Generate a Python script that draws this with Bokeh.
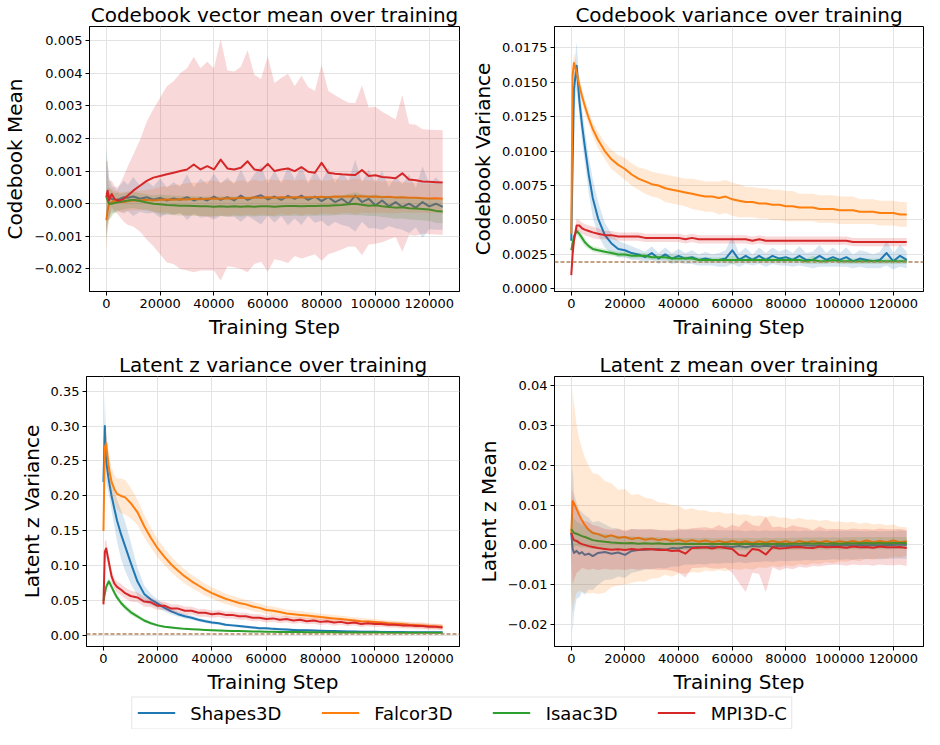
import numpy as np
from bokeh.plotting import figure
from bokeh.layouts import column, row
from bokeh.models import (Range1d, FixedTicker, CustomJSTickFormatter, BasicTickFormatter,
                          Span, Legend, LegendItem)
from bokeh.embed import file_html
from bokeh.resources import INLINE

# ---------------- data ----------------
NAMES = ["Shapes3D", "Falcor3D", "Isaac3D", "MPI3D-C"]

STEPS = [0, 500, 1000, 2000, 3000, 4000, 5000, 6500,
         8000, 10000, 12500, 15000, 17500, 20000, 22500, 25000,
         27500, 30000, 32500, 35000, 37500, 40000, 42500, 45000,
         47500, 50000, 52500, 55000, 57500, 60000, 62500, 65000,
         67500, 70000, 72500, 75000, 77500, 80000, 82500, 85000,
         87500, 90000, 92500, 95000, 97500, 100000, 102500, 105000,
         107500, 110000, 112500, 115000, 117500, 120000, 122500, 125000]

X_TICKS = [0, 20000, 40000, 60000, 80000, 100000, 120000]

# --- Codebook vector mean ---
CBM_SHP = [0.00030, 0.00035, 0.00020, 0.00015, 0.00010, 0.00012, 0.00015, 0.00020,
           0.00018, 0.00022, 0.00015, 0.00020, 0.00012, 0.00018, 0.00010, 0.00016,
           0.00012, 0.00020, 0.00010, 0.00017, 0.00010, 0.00022, 0.00012, 0.00020,
           0.00010, 0.00025, 0.00012, 0.00020, 0.00026, 0.00013, 0.00022, 0.00012,
           0.00024, 0.00015, 0.00025, 0.00012, 0.00022, 0.00008, 0.00020, 0.00005,
           0.00015, 0.00000, 0.00025, 0.00005, 0.00015, -0.00005, 0.00010, -0.00008,
           0.00005, -0.00010, 0.00000, -0.00012, 0.00005, -0.00008, 0.00000, -0.00010]
CBM_SHP_SD = [0.0014, 0.0009, 0.0006, 0.0004, 0.0004, 0.0003, 0.0004, 0.0005,
              0.0004, 0.0006, 0.0004, 0.0005, 0.0004, 0.0006, 0.0004, 0.0005,
              0.0004, 0.0007, 0.0004, 0.0006, 0.0005, 0.0007, 0.0005, 0.0006,
              0.0005, 0.0008, 0.0005, 0.0007, 0.0009, 0.0005, 0.0008, 0.0005,
              0.0009, 0.0006, 0.0009, 0.0005, 0.0008, 0.0006, 0.0009, 0.0006,
              0.0008, 0.0007, 0.0011, 0.0006, 0.0009, 0.0007, 0.0009, 0.0006,
              0.0008, 0.0007, 0.0009, 0.0006, 0.0011, 0.0007, 0.0008, 0.0007]
CBM_FAL = [-0.00050, -0.00020, 0.00000, 0.00005, 0.00010, 0.00008, 0.00005, 0.00005,
           0.00008, 0.00010, 0.00010, 0.00012, 0.00010, 0.00012, 0.00013, 0.00012,
           0.00014, 0.00013, 0.00015, 0.00014, 0.00015, 0.00016, 0.00015, 0.00017,
           0.00016, 0.00018, 0.00017, 0.00019, 0.00018, 0.00020, 0.00018, 0.00020,
           0.00019, 0.00020, 0.00019, 0.00020, 0.00020, 0.00021, 0.00020, 0.00022,
           0.00021, 0.00023, 0.00022, 0.00023, 0.00021, 0.00022, 0.00020, 0.00021,
           0.00019, 0.00020, 0.00018, 0.00018, 0.00017, 0.00016, 0.00017, 0.00015]
CBM_FAL_SD = [0.0009, 0.0007, 0.0005, 0.0004, 0.0003, 0.0003, 0.0003, 0.0003,
              0.0003, 0.0003, 0.0003, 0.0003, 0.00035, 0.0004, 0.0004, 0.00045,
              0.00045, 0.0005, 0.0005, 0.0005, 0.00055, 0.00055, 0.0005, 0.00055,
              0.0005, 0.00055, 0.0005, 0.00055, 0.0005, 0.00055, 0.00055, 0.0005,
              0.00055, 0.0005, 0.00055, 0.0005, 0.00055, 0.0005, 0.0005, 0.00055,
              0.0005, 0.0005, 0.00055, 0.0005, 0.0005, 0.0005, 0.00048, 0.0005,
              0.00048, 0.00047, 0.00046, 0.00046, 0.00045, 0.00045, 0.00044, 0.00045]
CBM_ISA = [0.00020, 0.00010, 0.00000, 0.00000, 0.00002, 0.00004, 0.00005, 0.00008,
           0.00010, 0.00012, 0.00008, 0.00004, 0.00000, -0.00002, -0.00004, -0.00005,
           -0.00006, -0.00006, -0.00007, -0.00008, -0.00008, -0.00009, -0.00008, -0.00009,
           -0.00008, -0.00009, -0.00008, -0.00009, -0.00008, -0.00008, -0.00009, -0.00008,
           -0.00007, -0.00007, -0.00008, -0.00007, -0.00007, -0.00006, -0.00006, -0.00005,
           -0.00004, -0.00002, 0.00000, -0.00003, -0.00006, -0.00005, -0.00008, -0.00010,
           -0.00012, -0.00011, -0.00014, -0.00015, -0.00016, -0.00018, -0.00022, -0.00024]
CBM_ISA_SD = [0.0013, 0.0008, 0.0005, 0.0004, 0.0003, 0.0003, 0.00025, 0.00025,
              0.00025, 0.00025, 0.00025, 0.00025, 0.00025, 0.0003, 0.0003, 0.0003,
              0.0003, 0.0003, 0.0003, 0.0003, 0.0003, 0.0003, 0.0003, 0.0003,
              0.0003, 0.0003, 0.0003, 0.0003, 0.0003, 0.0003, 0.0003, 0.0003,
              0.0003, 0.0003, 0.0003, 0.0003, 0.0003, 0.0003, 0.0003, 0.0003,
              0.0003, 0.00032, 0.00035, 0.00032, 0.00032, 0.00033, 0.00033, 0.00033,
              0.00034, 0.00034, 0.00034, 0.00035, 0.00035, 0.00035, 0.00036, 0.00036]
CBM_MPI = [0.00020, 0.00040, 0.00010, 0.00030, 0.00015, 0.00010, 0.00010, 0.00015,
           0.00025, 0.00040, 0.00055, 0.00070, 0.00080, 0.00085, 0.00090, 0.00095,
           0.00100, 0.00105, 0.00120, 0.00105, 0.00115, 0.00105, 0.00135, 0.00108,
           0.00105, 0.00110, 0.00130, 0.00105, 0.00102, 0.00122, 0.00100, 0.00105,
           0.00108, 0.00100, 0.00112, 0.00098, 0.00095, 0.00125, 0.00095, 0.00092,
           0.00090, 0.00089, 0.00088, 0.00103, 0.00085, 0.00087, 0.00082, 0.00080,
           0.00078, 0.00093, 0.00074, 0.00072, 0.00068, 0.00067, 0.00066, 0.00065]
CBM_MPI_SD = [0.0011, 0.0009, 0.0006, 0.0004, 0.0004, 0.0004, 0.0005, 0.0007,
              0.0009, 0.0011, 0.0014, 0.0018, 0.0021, 0.0024, 0.0027, 0.0028,
              0.0030, 0.0031, 0.0033, 0.0031, 0.0032, 0.0031, 0.0037, 0.0030,
              0.0030, 0.0031, 0.0034, 0.0029, 0.0028, 0.0033, 0.0027, 0.0028,
              0.0029, 0.0026, 0.0028, 0.0026, 0.0025, 0.0030, 0.0025, 0.0024,
              0.0023, 0.0022, 0.0022, 0.0026, 0.0021, 0.0021, 0.0020, 0.0019,
              0.0018, 0.0024, 0.0017, 0.0017, 0.0016, 0.0016, 0.0016, 0.0016]
CBM_Y_TICKS = [-0.002, -0.001, 0.0, 0.001, 0.002, 0.003, 0.004, 0.005]

# --- Codebook variance ---
CBV_SHP = [0.0035, 0.0090, 0.0145, 0.0162, 0.0137, 0.0119, 0.0104, 0.0083,
           0.0066, 0.0051, 0.0039, 0.0033, 0.0029, 0.0028, 0.0026, 0.0025,
           0.0023, 0.0026, 0.0022, 0.0025, 0.0022, 0.0024, 0.0022, 0.0023,
           0.0021, 0.0022, 0.0021, 0.0021, 0.0022, 0.0028, 0.0021, 0.0024,
           0.0021, 0.0024, 0.0021, 0.0024, 0.0022, 0.0023, 0.0021, 0.0024,
           0.0021, 0.0021, 0.0024, 0.0021, 0.0023, 0.0021, 0.0023, 0.0020,
           0.0022, 0.0021, 0.0020, 0.0021, 0.0026, 0.0020, 0.0024, 0.0021]
CBV_SHP_SD = [0.0008, 0.0015, 0.0015, 0.0017, 0.0012, 0.0012, 0.0012, 0.0013,
              0.0014, 0.0012, 0.0009, 0.0007, 0.0006, 0.0005, 0.0005, 0.0004,
              0.0004, 0.0005, 0.0004, 0.0005, 0.0004, 0.0005, 0.0004, 0.0005,
              0.0004, 0.0005, 0.0004, 0.0005, 0.0006, 0.0010, 0.0005, 0.0006,
              0.0004, 0.0006, 0.0005, 0.0006, 0.0005, 0.0006, 0.0005, 0.0007,
              0.0005, 0.0006, 0.0008, 0.0005, 0.0007, 0.0005, 0.0007, 0.0005,
              0.0006, 0.0006, 0.0005, 0.0006, 0.0009, 0.0006, 0.0008, 0.0006]
CBV_FAL = [0.0040, 0.0155, 0.0164, 0.0157, 0.0148, 0.0140, 0.0133, 0.0124,
           0.0116, 0.0108, 0.0100, 0.0094, 0.0090, 0.0087, 0.0083, 0.0080,
           0.0078, 0.0076, 0.0075, 0.0073, 0.0072, 0.0071, 0.0070, 0.0069,
           0.0068, 0.0067, 0.0067, 0.0066, 0.0067, 0.0065, 0.0064, 0.0063,
           0.0063, 0.0062, 0.0062, 0.0061, 0.0061, 0.0060, 0.0060, 0.0059,
           0.0059, 0.0059, 0.0058, 0.0058, 0.0058, 0.0057, 0.0057, 0.0057,
           0.0056, 0.0056, 0.0056, 0.0055, 0.0055, 0.0055, 0.0054, 0.0054]
CBV_FAL_SD = [0.0003, 0.0006, 0.0007, 0.0005, 0.0005, 0.0005, 0.0005, 0.0005,
              0.0005, 0.0006, 0.0006, 0.0007, 0.0007, 0.0008, 0.0008, 0.0008,
              0.0009, 0.0009, 0.0009, 0.0010, 0.0010, 0.0010, 0.0010, 0.0011,
              0.0011, 0.0011, 0.0011, 0.0012, 0.0012, 0.0012, 0.0012, 0.0011,
              0.0011, 0.0011, 0.0011, 0.0011, 0.0011, 0.0011, 0.0011, 0.0010,
              0.0010, 0.0010, 0.0010, 0.0010, 0.0010, 0.0010, 0.0010, 0.0010,
              0.0009, 0.0009, 0.0009, 0.0009, 0.0009, 0.0009, 0.0009, 0.0009]
CBV_ISA = [0.0028, 0.0033, 0.0038, 0.0042, 0.0040, 0.0037, 0.0034, 0.0031,
           0.0029, 0.0028, 0.0027, 0.0026, 0.0025, 0.0025, 0.0024, 0.0024,
           0.0024, 0.0023, 0.0023, 0.0023, 0.0022, 0.0022, 0.0022, 0.0022,
           0.0021, 0.0021, 0.0021, 0.0021, 0.0021, 0.0021, 0.0021, 0.0021,
           0.0021, 0.0021, 0.0021, 0.0021, 0.0021, 0.0021, 0.0021, 0.0021,
           0.0020, 0.0021, 0.0020, 0.0020, 0.0021, 0.0020, 0.0020, 0.0020,
           0.0020, 0.0020, 0.0020, 0.0020, 0.0020, 0.0020, 0.0020, 0.0020]
CBV_ISA_SD = [0.0003, 0.0003, 0.0003, 0.0003, 0.0003, 0.0003, 0.0003, 0.0002,
              0.0002, 0.0002, 0.0002, 0.0002, 0.0002, 0.0002, 0.0002, 0.0002,
              0.0002, 0.0002, 0.0002, 0.0002, 0.0003, 0.0002, 0.0002, 0.0002,
              0.0002, 0.0002, 0.0002, 0.0002, 0.0002, 0.0003, 0.0002, 0.0002,
              0.0002, 0.0002, 0.0002, 0.0002, 0.0002, 0.0002, 0.0002, 0.0002,
              0.0002, 0.0003, 0.0002, 0.0002, 0.0002, 0.0002, 0.0002, 0.0002,
              0.0002, 0.0002, 0.0002, 0.0002, 0.0002, 0.0002, 0.0002, 0.0002]
CBV_MPI = [0.0010, 0.0025, 0.0035, 0.0046, 0.0046, 0.0044, 0.0043, 0.0042,
           0.0041, 0.0040, 0.0039, 0.0039, 0.0038, 0.0038, 0.0038, 0.0038,
           0.0037, 0.0037, 0.0037, 0.0037, 0.0037, 0.0037, 0.0036, 0.0037,
           0.0036, 0.0036, 0.0036, 0.0036, 0.0036, 0.0036, 0.0036, 0.0036,
           0.0035, 0.0036, 0.0035, 0.0035, 0.0035, 0.0035, 0.0035, 0.0035,
           0.0035, 0.0035, 0.0035, 0.0035, 0.0035, 0.0035, 0.0035, 0.0034,
           0.0034, 0.0034, 0.0034, 0.0034, 0.0034, 0.0034, 0.0034, 0.0034]
CBV_MPI_SD = [0.0003, 0.0004, 0.0004, 0.0005, 0.0004, 0.0004, 0.0004, 0.0004,
              0.0004, 0.0004, 0.0003, 0.0003, 0.0003, 0.0003, 0.0003, 0.0003,
              0.0003, 0.0003, 0.0003, 0.0003, 0.0003, 0.0003, 0.0003, 0.0003,
              0.0003, 0.0003, 0.0003, 0.0003, 0.0003, 0.0003, 0.0003, 0.0003,
              0.0003, 0.0003, 0.0003, 0.0003, 0.0003, 0.0003, 0.0003, 0.0003,
              0.0003, 0.0003, 0.0003, 0.0003, 0.0003, 0.0003, 0.0003, 0.0003,
              0.0003, 0.0003, 0.0003, 0.0003, 0.0003, 0.0003, 0.0003, 0.0003]
CBV_Y_TICKS = [0.0, 0.0025, 0.005, 0.0075, 0.01, 0.0125, 0.015, 0.0175]
CBV_REF_LEVEL = 0.00195

# --- Latent z variance ---
LZV_SHP = [0.220, 0.300, 0.250, 0.222, 0.200, 0.182, 0.165, 0.145,
           0.128, 0.105, 0.078, 0.060, 0.052, 0.046, 0.040, 0.035,
           0.031, 0.028, 0.026, 0.023, 0.021, 0.019, 0.018, 0.016,
           0.015, 0.014, 0.013, 0.012, 0.011, 0.011, 0.010, 0.0095,
           0.0090, 0.0085, 0.0080, 0.0080, 0.0075, 0.0072, 0.0070, 0.0068,
           0.0066, 0.0064, 0.0062, 0.0060, 0.0059, 0.0058, 0.0057, 0.0056,
           0.0055, 0.0054, 0.0053, 0.0052, 0.0052, 0.0051, 0.0050, 0.0050]
LZV_SHP_SD = [0.030, 0.045, 0.030, 0.020, 0.020, 0.025, 0.030, 0.035,
              0.035, 0.030, 0.020, 0.012, 0.008, 0.006, 0.005, 0.004,
              0.0035, 0.0030, 0.0030, 0.0025, 0.0025, 0.0025, 0.0020, 0.0020,
              0.0020, 0.0020, 0.0020, 0.0020, 0.0018, 0.0018, 0.0018, 0.0018,
              0.0018, 0.0017, 0.0017, 0.0017, 0.0017, 0.0016, 0.0016, 0.0016,
              0.0016, 0.0016, 0.0015, 0.0015, 0.0015, 0.0015, 0.0015, 0.0015,
              0.0015, 0.0015, 0.0015, 0.0015, 0.0015, 0.0015, 0.0015, 0.0015]
LZV_FAL = [0.150, 0.270, 0.275, 0.240, 0.220, 0.210, 0.203, 0.200,
           0.198, 0.190, 0.177, 0.157, 0.140, 0.125, 0.113, 0.102,
           0.093, 0.085, 0.078, 0.072, 0.066, 0.061, 0.057, 0.053,
           0.050, 0.047, 0.045, 0.042, 0.040, 0.037, 0.036, 0.034,
           0.032, 0.031, 0.030, 0.029, 0.028, 0.027, 0.026, 0.025,
           0.024, 0.023, 0.022, 0.021, 0.0205, 0.020, 0.019, 0.018,
           0.0175, 0.017, 0.016, 0.0155, 0.015, 0.014, 0.0135, 0.013]
LZV_FAL_SD = [0.020, 0.025, 0.020, 0.018, 0.020, 0.020, 0.022, 0.025,
              0.025, 0.022, 0.018, 0.016, 0.014, 0.013, 0.012, 0.011,
              0.0105, 0.010, 0.0095, 0.009, 0.0085, 0.008, 0.0078, 0.0075,
              0.0072, 0.007, 0.0068, 0.0066, 0.0064, 0.0062, 0.006, 0.0058,
              0.0056, 0.0055, 0.0054, 0.0053, 0.0052, 0.005, 0.0049, 0.0048,
              0.0047, 0.0046, 0.0045, 0.0044, 0.0043, 0.0042, 0.0042, 0.0041,
              0.0041, 0.004, 0.004, 0.004, 0.004, 0.004, 0.004, 0.004]
LZV_ISA = [0.050, 0.060, 0.070, 0.078, 0.070, 0.062, 0.055, 0.047,
           0.041, 0.034, 0.028, 0.022, 0.018, 0.015, 0.013, 0.012,
           0.011, 0.010, 0.0095, 0.009, 0.0085, 0.008, 0.0077, 0.0074,
           0.0071, 0.0068, 0.0066, 0.0064, 0.0062, 0.0060, 0.0058, 0.0057,
           0.0056, 0.0055, 0.0054, 0.0053, 0.0052, 0.0051, 0.0050, 0.0050,
           0.0049, 0.0049, 0.0048, 0.0048, 0.0047, 0.0047, 0.0047, 0.0046,
           0.0046, 0.0046, 0.0045, 0.0045, 0.0045, 0.0045, 0.0044, 0.0044]
LZV_ISA_SD = [0.005, 0.006, 0.006, 0.005, 0.004, 0.004, 0.004, 0.004,
              0.004, 0.004, 0.003, 0.003, 0.002, 0.002, 0.0015, 0.0015,
              0.0013, 0.0012, 0.0012, 0.0011, 0.0011, 0.0010, 0.0010, 0.0010,
              0.0010, 0.0010, 0.0010, 0.0010, 0.0010, 0.0010, 0.0010, 0.0010,
              0.0010, 0.0010, 0.0010, 0.0010, 0.0010, 0.0010, 0.0010, 0.0010,
              0.0009, 0.0009, 0.0009, 0.0009, 0.0009, 0.0009, 0.0009, 0.0009,
              0.0009, 0.0009, 0.0009, 0.0009, 0.0009, 0.0009, 0.0009, 0.0009]
LZV_MPI = [0.045, 0.120, 0.125, 0.105, 0.085, 0.075, 0.070, 0.066,
           0.061, 0.057, 0.055, 0.049, 0.048, 0.043, 0.043, 0.039,
           0.039, 0.036, 0.036, 0.033, 0.033, 0.031, 0.032, 0.030,
           0.030, 0.028, 0.028, 0.026, 0.026, 0.024, 0.025, 0.023,
           0.024, 0.022, 0.023, 0.021, 0.022, 0.020, 0.021, 0.019,
           0.020, 0.018, 0.019, 0.017, 0.018, 0.017, 0.017, 0.016,
           0.016, 0.015, 0.015, 0.014, 0.014, 0.013, 0.013, 0.012]
LZV_MPI_SD = [0.008, 0.015, 0.012, 0.010, 0.009, 0.008, 0.008, 0.008,
              0.008, 0.008, 0.007, 0.007, 0.007, 0.006, 0.006, 0.006,
              0.006, 0.006, 0.0055, 0.0055, 0.0055, 0.005, 0.005, 0.005,
              0.005, 0.005, 0.005, 0.005, 0.0048, 0.0048, 0.0047, 0.0047,
              0.0046, 0.0046, 0.0045, 0.0045, 0.0045, 0.0044, 0.0044, 0.0044,
              0.0043, 0.0043, 0.0043, 0.0042, 0.0042, 0.0042, 0.0041, 0.0041,
              0.0041, 0.004, 0.004, 0.004, 0.004, 0.004, 0.004, 0.004]
LZV_Y_TICKS = [0.0, 0.05, 0.10, 0.15, 0.20, 0.25, 0.30, 0.35]
LZV_REF_LEVEL = 0.0025

# --- Latent z mean ---
LZM_SHP = [0.0030, -0.0010, -0.0020, -0.0015, -0.0022, -0.0018, -0.0025, -0.0022,
           -0.0028, -0.0020, -0.0018, -0.0022, -0.0019, -0.0025, -0.0015, -0.0013,
           -0.0012, -0.0011, -0.0010, -0.0012, -0.0008, -0.0009, -0.0005, -0.0006,
           -0.0005, -0.0006, -0.0004, -0.0005, -0.0004, -0.0005, -0.0003, -0.0006,
           -0.0003, -0.0004, -0.0002, -0.0004, -0.0002, -0.0003, -0.0002, -0.0003,
           -0.0001, -0.0002, -0.0001, -0.0002, 0.0000, -0.0001, 0.0000, -0.0001,
           0.0000, -0.0001, 0.0000, -0.0001, 0.0000, 0.0000, 0.0001, 0.0000]
LZM_SHP_SD = [0.010, 0.021, 0.015, 0.012, 0.011, 0.010, 0.010, 0.009,
              0.0085, 0.008, 0.007, 0.0065, 0.006, 0.0058, 0.0055, 0.0053,
              0.0050, 0.0050, 0.0048, 0.0047, 0.0046, 0.0045, 0.0044, 0.0044,
              0.0043, 0.0043, 0.0042, 0.0042, 0.0041, 0.0041, 0.0040, 0.0040,
              0.0040, 0.0039, 0.0039, 0.0039, 0.0038, 0.0038, 0.0038, 0.0037,
              0.0037, 0.0037, 0.0037, 0.0036, 0.0036, 0.0036, 0.0036, 0.0036,
              0.0035, 0.0035, 0.0035, 0.0035, 0.0035, 0.0035, 0.0035, 0.0035]
LZM_FAL = [0.0030, 0.0110, 0.0105, 0.0090, 0.0075, 0.0062, 0.0050, 0.0038,
           0.0030, 0.0027, 0.0020, 0.0024, 0.0018, 0.0020, 0.0015, 0.0018,
           0.0013, 0.0016, 0.0012, 0.0015, 0.0010, 0.0013, 0.0008, 0.0012,
           0.0008, 0.0011, 0.0007, 0.0010, 0.0006, 0.0010, 0.0006, 0.0009,
           0.0005, 0.0009, 0.0006, 0.0010, 0.0006, 0.0009, 0.0005, 0.0010,
           0.0006, 0.0009, 0.0006, 0.0010, 0.0006, 0.0009, 0.0007, 0.0010,
           0.0006, 0.0011, 0.0007, 0.0010, 0.0007, 0.0011, 0.0007, 0.0009]
LZM_FAL_SD = [0.015, 0.028, 0.025, 0.021, 0.019, 0.018, 0.017, 0.016,
              0.015, 0.015, 0.014, 0.013, 0.012, 0.012, 0.011, 0.011,
              0.0105, 0.010, 0.0095, 0.009, 0.009, 0.0085, 0.008, 0.008,
              0.0078, 0.0075, 0.0074, 0.0073, 0.0072, 0.007, 0.0069, 0.0068,
              0.0067, 0.0065, 0.0064, 0.0063, 0.0062, 0.006, 0.0059, 0.0058,
              0.0057, 0.0055, 0.0054, 0.0053, 0.0052, 0.005, 0.0049, 0.0048,
              0.0047, 0.0045, 0.0044, 0.0043, 0.0042, 0.004, 0.0038, 0.0035]
LZM_ISA = [0.0040, 0.0035, 0.0030, 0.0028, 0.0025, 0.0022, 0.0020, 0.0016,
           0.0012, 0.0010, 0.0008, 0.0006, 0.0005, 0.0004, 0.0005, 0.0003,
           0.0004, 0.0003, 0.0004, 0.0002, 0.0003, 0.0003, 0.0002, 0.0003,
           0.0002, 0.0003, 0.0002, 0.0002, 0.0003, 0.0002, 0.0002, 0.0003,
           0.0002, 0.0002, 0.0003, 0.0002, 0.0003, 0.0002, 0.0003, 0.0003,
           0.0004, 0.0003, 0.0004, 0.0003, 0.0004, 0.0003, 0.0004, 0.0004,
           0.0004, 0.0005, 0.0004, 0.0005, 0.0004, 0.0005, 0.0005, 0.0005]
LZM_ISA_SD = [0.004, 0.004, 0.0035, 0.003, 0.003, 0.0028, 0.0026, 0.0024,
              0.0022, 0.002, 0.002, 0.0018, 0.0018, 0.0017, 0.0017, 0.0016,
              0.0016, 0.0016, 0.0016, 0.0015, 0.0015, 0.0015, 0.0015, 0.0015,
              0.0015, 0.0015, 0.0015, 0.0015, 0.0015, 0.0015, 0.0015, 0.0015,
              0.0015, 0.0015, 0.0015, 0.0015, 0.0015, 0.0015, 0.0015, 0.0015,
              0.0015, 0.0015, 0.0015, 0.0015, 0.0015, 0.0015, 0.0015, 0.0015,
              0.0015, 0.0015, 0.0015, 0.0015, 0.0015, 0.0015, 0.0015, 0.0015]
LZM_MPI = [0.0030, 0.0020, 0.0012, 0.0010, 0.0005, 0.0002, 0.0000, -0.0003,
           -0.0005, -0.0008, -0.0010, -0.0012, -0.0011, -0.0013, -0.0010, -0.0012,
           -0.0010, -0.0011, -0.0013, -0.0012, -0.0015, -0.0014, -0.0022, -0.0008,
           -0.0007, -0.0006, -0.0009, -0.0005, -0.0008, -0.0010, -0.0025, -0.0028,
           -0.0010, -0.0013, -0.0024, -0.0006, -0.0009, -0.0008, -0.0006, -0.0005,
           -0.0007, -0.0008, -0.0004, -0.0006, -0.0005, -0.0005, -0.0007, -0.0004,
           -0.0006, -0.0005, -0.0007, -0.0004, -0.0006, -0.0006, -0.0005, -0.0008]
LZM_MPI_SD = [0.006, 0.012, 0.010, 0.008, 0.007, 0.006, 0.006, 0.006,
              0.0055, 0.0055, 0.005, 0.005, 0.005, 0.005, 0.005, 0.005,
              0.005, 0.005, 0.005, 0.005, 0.005, 0.0055, 0.006, 0.005,
              0.005, 0.005, 0.005, 0.0055, 0.005, 0.006, 0.007, 0.009,
              0.006, 0.006, 0.0095, 0.005, 0.0055, 0.005, 0.0055, 0.005,
              0.005, 0.0045, 0.005, 0.0045, 0.0045, 0.0045, 0.0045, 0.0045,
              0.0045, 0.0045, 0.0045, 0.0045, 0.0045, 0.0045, 0.0045, 0.0045]
LZM_Y_TICKS = [-0.02, -0.01, 0.0, 0.01, 0.02, 0.03, 0.04]

# ---------------- styling ----------------
FONT = "DejaVu Sans"
COLORS = ["#1f77b4", "#ff7f0e", "#2ca02c", "#d62728"]
X_RANGE = (-6250, 131250)
X_LABEL = "Training Step"

for arr in [CBM_SHP, CBM_SHP_SD, CBM_FAL, CBM_FAL_SD, CBM_ISA, CBM_ISA_SD, CBM_MPI, CBM_MPI_SD,
            CBV_SHP, CBV_SHP_SD, CBV_FAL, CBV_FAL_SD, CBV_ISA, CBV_ISA_SD, CBV_MPI, CBV_MPI_SD,
            LZV_SHP, LZV_SHP_SD, LZV_FAL, LZV_FAL_SD, LZV_ISA, LZV_ISA_SD, LZV_MPI, LZV_MPI_SD,
            LZM_SHP, LZM_SHP_SD, LZM_FAL, LZM_FAL_SD, LZM_ISA, LZM_ISA_SD, LZM_MPI, LZM_MPI_SD]:
    assert len(arr) == len(STEPS), len(arr)


def y_formatter(decimals):
    code = ("const s = Math.abs(tick).toFixed(%d);"
            "return (tick < -1e-12 ? '\u2212' : '') + s;") % decimals
    return CustomJSTickFormatter(code=code)


def make_panel(title, ylabel, y_range, y_ticks, decimals, series, width, height,
               bl, br, bt, bb, ref_level=None):
    p = figure(width=width, height=height, output_backend="svg", toolbar_location=None,
               x_range=Range1d(*X_RANGE), y_range=Range1d(*y_range),
               min_border_left=bl, min_border_right=br, min_border_top=bt, min_border_bottom=bb,
               background_fill_color="white", border_fill_color="white")
    p.title.text = title
    p.title.text_font = FONT
    p.title.text_font_size = "20px"
    p.title.text_font_style = "normal"
    p.title.text_color = "black"
    p.title.text_line_height = 1.0
    p.title.align = "center"
    p.title.standoff = 0

    p.outline_line_color = "black"
    p.outline_line_width = 1
    p.outline_line_alpha = 1

    for ax in (p.xaxis[0], p.yaxis[0]):
        ax.major_label_text_font = FONT
        ax.major_label_text_font_size = "13px"
        ax.major_label_text_color = "black"
        ax.major_label_text_line_height = 1.0
        ax.axis_label_text_font = FONT
        ax.axis_label_text_font_size = "20px"
        ax.axis_label_text_font_style = "normal"
        ax.axis_label_text_color = "black"
        ax.axis_label_text_line_height = 1.0
        ax.major_tick_out = 4
        ax.major_tick_in = 0
        ax.minor_tick_out = 0
        ax.minor_tick_in = 0
        ax.major_tick_line_color = "black"
        ax.axis_line_color = "black"
        ax.major_label_standoff = 3
        ax.axis_label_standoff = 4

    p.xaxis.ticker = FixedTicker(ticks=X_TICKS)
    p.xaxis.formatter = BasicTickFormatter(use_scientific=False)
    p.xaxis.axis_label = X_LABEL
    p.yaxis.ticker = FixedTicker(ticks=y_ticks)
    p.yaxis.formatter = y_formatter(decimals)
    p.yaxis.axis_label = ylabel

    p.grid.grid_line_color = "#e3e3e3"
    p.grid.grid_line_width = 1

    x = np.array(STEPS, dtype=float)
    for (mean, sd), c in zip(series, COLORS):
        m = np.array(mean)
        s = np.array(sd)
        p.varea(x=x, y1=m - s, y2=m + s, fill_color=c, fill_alpha=0.18)
        p.line(x, m, line_color=c, line_width=2, line_join="round")

    if ref_level is not None:
        p.add_layout(Span(location=ref_level, dimension="width", line_color="#b3825a",
                          line_dash="4 2", line_width=1.5))
    return p


LW, RW = 464, 460
TOP_H, BOT_H, LEG_H = 345, 351, 33

p1 = make_panel("Codebook vector mean over training", "Codebook Mean",
                (-0.00269, 0.00543), CBM_Y_TICKS, 3,
                [(CBM_SHP, CBM_SHP_SD), (CBM_FAL, CBM_FAL_SD), (CBM_ISA, CBM_ISA_SD), (CBM_MPI, CBM_MPI_SD)],
                LW, TOP_H, 86, 5, 23, 54)
p2 = make_panel("Codebook variance over training", "Codebook Variance",
                (-0.00019, 0.01904), CBV_Y_TICKS, 4,
                [(CBV_SHP, CBV_SHP_SD), (CBV_FAL, CBV_FAL_SD), (CBV_ISA, CBV_ISA_SD), (CBV_MPI, CBV_MPI_SD)],
                RW, TOP_H, 90, 1, 23, 54, ref_level=CBV_REF_LEVEL)
p3 = make_panel("Latent z variance over training", "Latent z Variance",
                (-0.0152, 0.3708), LZV_Y_TICKS, 2,
                [(LZV_SHP, LZV_SHP_SD), (LZV_FAL, LZV_FAL_SD), (LZV_ISA, LZV_ISA_SD), (LZV_MPI, LZV_MPI_SD)],
                LW, BOT_H, 86, 5, 31, 50, ref_level=LZV_REF_LEVEL)
p4 = make_panel("Latent z mean over training", "Latent z Mean",
                (-0.02548, 0.04224), LZM_Y_TICKS, 2,
                [(LZM_SHP, LZM_SHP_SD), (LZM_FAL, LZM_FAL_SD), (LZM_ISA, LZM_ISA_SD), (LZM_MPI, LZM_MPI_SD)],
                RW, BOT_H, 90, 1, 31, 50)

# legend strip (the lines carry real data but lie outside this strip's view)
leg = figure(width=LW + RW, height=LEG_H, output_backend="svg", toolbar_location=None,
             x_axis_type=None, y_axis_type=None,
             x_range=Range1d(-300000, -200000), y_range=Range1d(10, 11),
             min_border_left=0, min_border_right=0, min_border_top=0, min_border_bottom=0,
             outline_line_color=None, background_fill_color="white", border_fill_color="white")
items = []
for name, c, ys in zip(NAMES, COLORS, [LZV_SHP, LZV_FAL, LZV_ISA, LZV_MPI]):
    r = leg.line(x=STEPS, y=ys, line_color=c, line_width=2)
    items.append(LegendItem(label=name, renderers=[r]))
legend = Legend(items=items, orientation="horizontal", location="center",
                label_text_font=FONT, label_text_font_size="18px", label_text_color="black",
                label_text_line_height=1.0,
                glyph_width=38, glyph_height=20, label_standoff=15, spacing=40,
                padding=5, margin=0, border_line_color="#cccccc", border_line_width=1,
                background_fill_color="white", background_fill_alpha=1)
leg.add_layout(legend, "center")

layout = column(row(p1, p2), row(p3, p4), leg)

open("out.html", "w").write(file_html(layout, INLINE))
